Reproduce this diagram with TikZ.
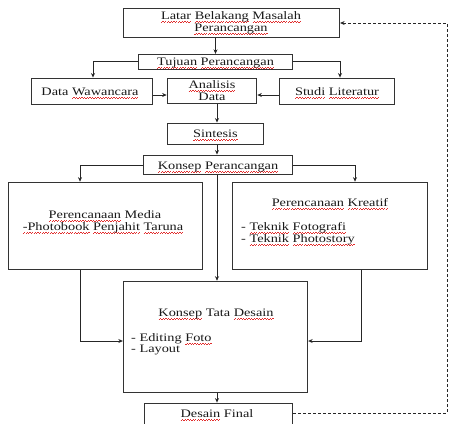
\documentclass[tikz,border=0pt]{standalone}
\usepackage{fontspec}
\setmainfont{Liberation Serif}[FakeStretch=1.25]
\usetikzlibrary{arrows.meta}
\definecolor{spell}{RGB}{225,45,45}
\newsavebox\sqbox
\newcommand\sq[1]{\sbox\sqbox{#1}\rlap{\color{spell}\hbox to \wd\sqbox{\xleaders\hbox{\rule[-3.4pt]{1.3pt}{0.7pt}\rule[-2.5pt]{1.3pt}{0.7pt}}\hfil}}\usebox\sqbox}
\tikzset{
  box/.style={draw=black!80, line width=1bp, inner sep=0pt, fill=white},
  txt/.style={inner sep=0pt, font=\fontsize{11.5}{12}\selectfont, text=black!90},
  arr/.style={draw=black!85, line width=0.8bp, -{Stealth[length=4.5bp,width=4bp]}},
  dsh/.style={arr, dash pattern=on 3bp off 2bp}
}
\begin{document}
\begin{tikzpicture}[x=1bp,y=-1bp]
\useasboundingbox (0,0) rectangle (457,423);
\clip (0,0) rectangle (457,423);
\fill[white] (0,0) rectangle (457,423);
% helper coordinates
\coordinate (spine) at (217,0);
\coordinate (ml) at (80,0);
\coordinate (mr) at (355,0);
\coordinate (mr2) at (361,0);
\coordinate (jy) at (0,341);
\coordinate (fy) at (0,413);
\coordinate (dr) at (447,0);
% boxes
\node[box, minimum width=217, minimum height=30] (latar) at (231.5,23) {};
\node[txt, anchor=base] (latar1) at (231,19) {\sq{Latar} \sq{Belakang} \sq{Masalah}};
\node[txt, anchor=base] (latar2) at (231,31) {\sq{Perancangan}};
\node[box, minimum width=155, minimum height=15] (tujuan) at (215.5,61.8) {};
\node[txt, anchor=base] (tujuant) at (215.5,65.5) {\sq{Tujuan} \sq{Perancangan}};
\node[box, minimum width=122, minimum height=27] (data) at (92,91.5) {};
\node[txt, anchor=base] (datat) at (90,95.5) {Data \sq{Wawancara}};
\node[box, minimum width=90, minimum height=26] (analisis) at (212,91) {};
\node[txt, anchor=base] (analisis1) at (212,88) {\sq{Analisis}};
\node[txt, anchor=base] (analisis2) at (212,100) {Data};
\node[box, minimum width=116, minimum height=27] (studi) at (337,91.5) {};
\node[txt, anchor=base] (studit) at (337,95.5) {\sq{Studi} \sq{Literatur}};
\node[box, minimum width=97, minimum height=22] (sintesis) at (215.5,134) {};
\node[txt, anchor=base] (sintesist) at (215.5,137) {\sq{Sintesis}};
\node[box, minimum width=150, minimum height=20] (konsep) at (218,165) {};
\node[txt, anchor=base] (konsept) at (218,169) {\sq{Konsep} \sq{Perancangan}};
\node[box, minimum width=195, minimum height=88] (media) at (105.5,226) {};
\node[txt, anchor=base] (media1) at (105,218.5) {\sq{Perencanaan} Media};
\node[txt, anchor=base] (media2) at (103,230) {\sq{-Photobook} \sq{Penjahit} \sq{Taruna}};
\node[box, minimum width=196, minimum height=88] (kreatif) at (330,226) {};
\node[txt, anchor=base] (kreatif1) at (330,206.5) {\sq{Perencanaan} \sq{Kreatif}};
\node[txt, anchor=base west] (kreatif2) at (241,230) {- \sq{Teknik} \sq{Fotografi}};
\node[txt, anchor=base west] (kreatif3) at (241,242.5) {- \sq{Teknik} \sq{Photostory}};
\node[box, minimum width=185, minimum height=112] (tata) at (215.5,337) {};
\node[txt, anchor=base] (tata1) at (216,316) {\sq{Konsep} Tata \sq{Desain}};
\node[txt, anchor=base west] (tata2) at (131,341.5) {- Editing \sq{Foto}};
\node[txt, anchor=base west] (tata3) at (131,352.5) {- Layout};
\node[box, minimum width=149, minimum height=34] (final) at (218.5,420) {};
\node[txt, anchor=base] (finalt) at (217,417) {\sq{Desain} Final};
% connectors
\draw[arr] (latar.south -| tujuan.north) -- (tujuan.north);
\draw[arr] (tujuan.west) -| (data.north -| 93,0);
\draw[arr] (tujuan.east) -| (studi.north -| 340,0);
\draw[arr] (data.east |- 0,95) -- (analisis.west |- 0,95);
\draw[arr] (studi.west |- 0,95) -- (analisis.east |- 0,95);
\draw[arr] (analisis.south -| spine) -- (sintesis.north -| spine);
\draw[arr] (sintesis.south -| spine) -- (konsep.north -| spine);
\draw[arr] (konsep.west) -| (media.north -| ml);
\draw[arr] (konsep.east) -| (kreatif.north -| mr);
\draw[arr] (konsep.south -| spine) -- (tata.north -| spine);
\draw[arr] (media.south -| ml) |- (tata.west |- jy);
\draw[arr] (kreatif.south -| mr2) |- (tata.east |- jy);
\draw[arr] (tata.south -| spine) -- (final.north -| spine);
\draw[dsh] (final.east |- fy) -| (dr |- latar.east) -- (latar.east);
\end{tikzpicture}
\end{document}
